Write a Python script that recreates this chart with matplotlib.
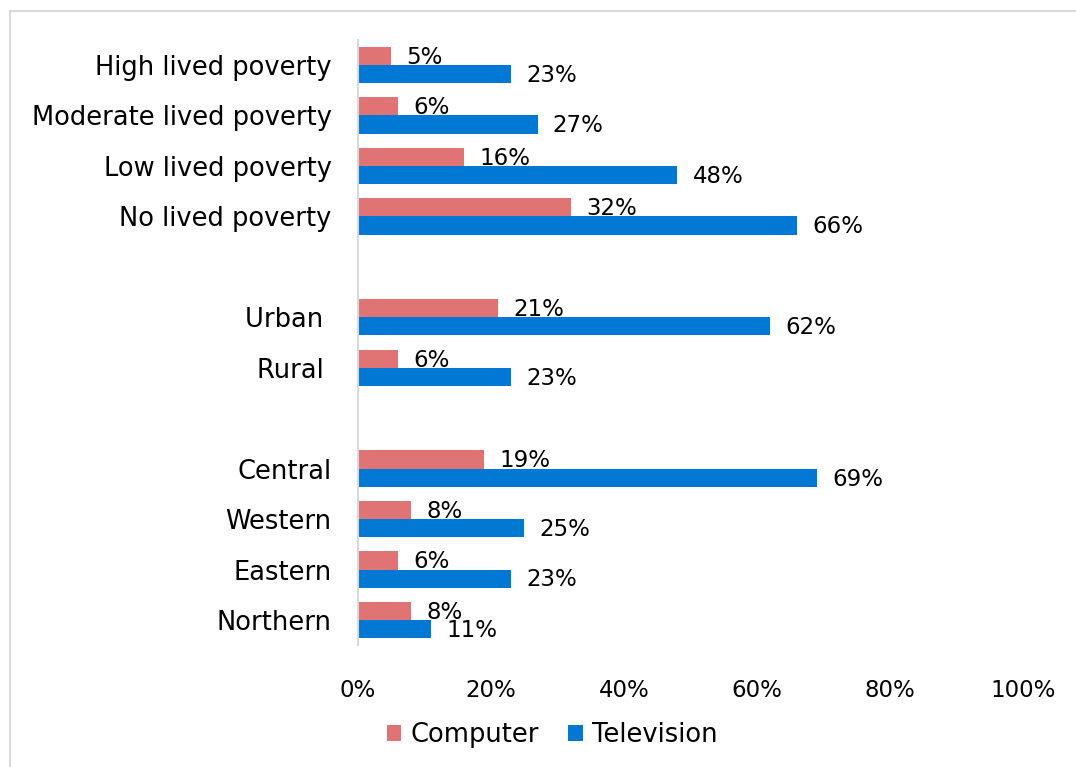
import matplotlib
matplotlib.use("Agg")
import matplotlib.pyplot as plt
from matplotlib.patches import Rectangle, Patch

categories = ["High lived poverty", "Moderate lived poverty", "Low lived poverty",
              "No lived poverty", "Urban ", "Rural ", "Central", "Western",
              "Eastern", "Northern"]
group_sizes = [4, 2, 4]
computer = [5, 6, 16, 32, 21, 6, 19, 8, 6, 8]
television = [23, 27, 48, 66, 62, 23, 69, 25, 23, 11]
series_names = ["Computer", "Television"]
colors = ["#E07474", "#0078D4"]
xticks = [0, 20, 40, 60, 80, 100]
xtick_labels = [f"{v}%" for v in xticks]

plt.rcParams["font.family"] = ["DejaVu Sans"]
FS_NUM = 16.5
FS_TXT = 18.5

fig = plt.figure(figsize=(10.76, 7.67), dpi=100)
ax = fig.add_axes([358 / 1076, 1 - 645.2 / 767, (1023 - 358) / 1076, (645.2 - 39.8) / 767])

# slot positions with a blank slot between groups
pos = []
slot = 0
for g in group_sizes:
    for _ in range(g):
        pos.append(slot)
        slot += 1
    slot += 1
nslots = slot - 1

h = 0.36
y_comp = [p - h / 2 for p in pos]
y_tv = [p + h / 2 for p in pos]
b1 = ax.barh(y_comp, computer, height=h, color=colors[0], label=series_names[0])
b2 = ax.barh(y_tv, television, height=h, color=colors[1], label=series_names[1])

for bars, vals in ((b1, computer), (b2, television)):
    for rect, v in zip(bars, vals):
        ax.annotate(f"{v}%", (rect.get_width(), rect.get_y() + rect.get_height() / 2),
                    xytext=(11, -1), textcoords="offset points",
                    ha="left", va="center", fontsize=FS_NUM, color="#000000")

ax.set_xlim(0, 100)
ax.set_ylim(nslots - 0.5, -0.5)
ax.set_xticks(xticks)
ax.set_xticklabels(xtick_labels, fontsize=FS_NUM)
ax.set_yticks(pos)
ax.set_yticklabels(categories, fontsize=FS_TXT)
ax.tick_params(axis="x", length=0, pad=24)
ax.tick_params(axis="y", length=0, pad=19)
for s in ("top", "right", "bottom"):
    ax.spines[s].set_visible(False)
ax.spines["left"].set_color("#D9D9D9")
ax.spines["left"].set_linewidth(1.5)

handles = [Patch(facecolor=c, edgecolor="none") for c in colors]
fig.legend(handles, series_names, loc="center", bbox_to_anchor=(0.513, 0.042),
           ncol=2, frameon=False, fontsize=FS_TXT, handlelength=0.57, handleheight=0.57,
           handletextpad=0.35, columnspacing=1.15)

fig.patches.append(Rectangle((9.5 / 1076, -0.1), 1.2, 1 - 10.5 / 767 + 0.1,
                             transform=fig.transFigure, fill=False,
                             edgecolor="#D9D9D9", linewidth=1.5))

fig.savefig("out.png", dpi=100)
